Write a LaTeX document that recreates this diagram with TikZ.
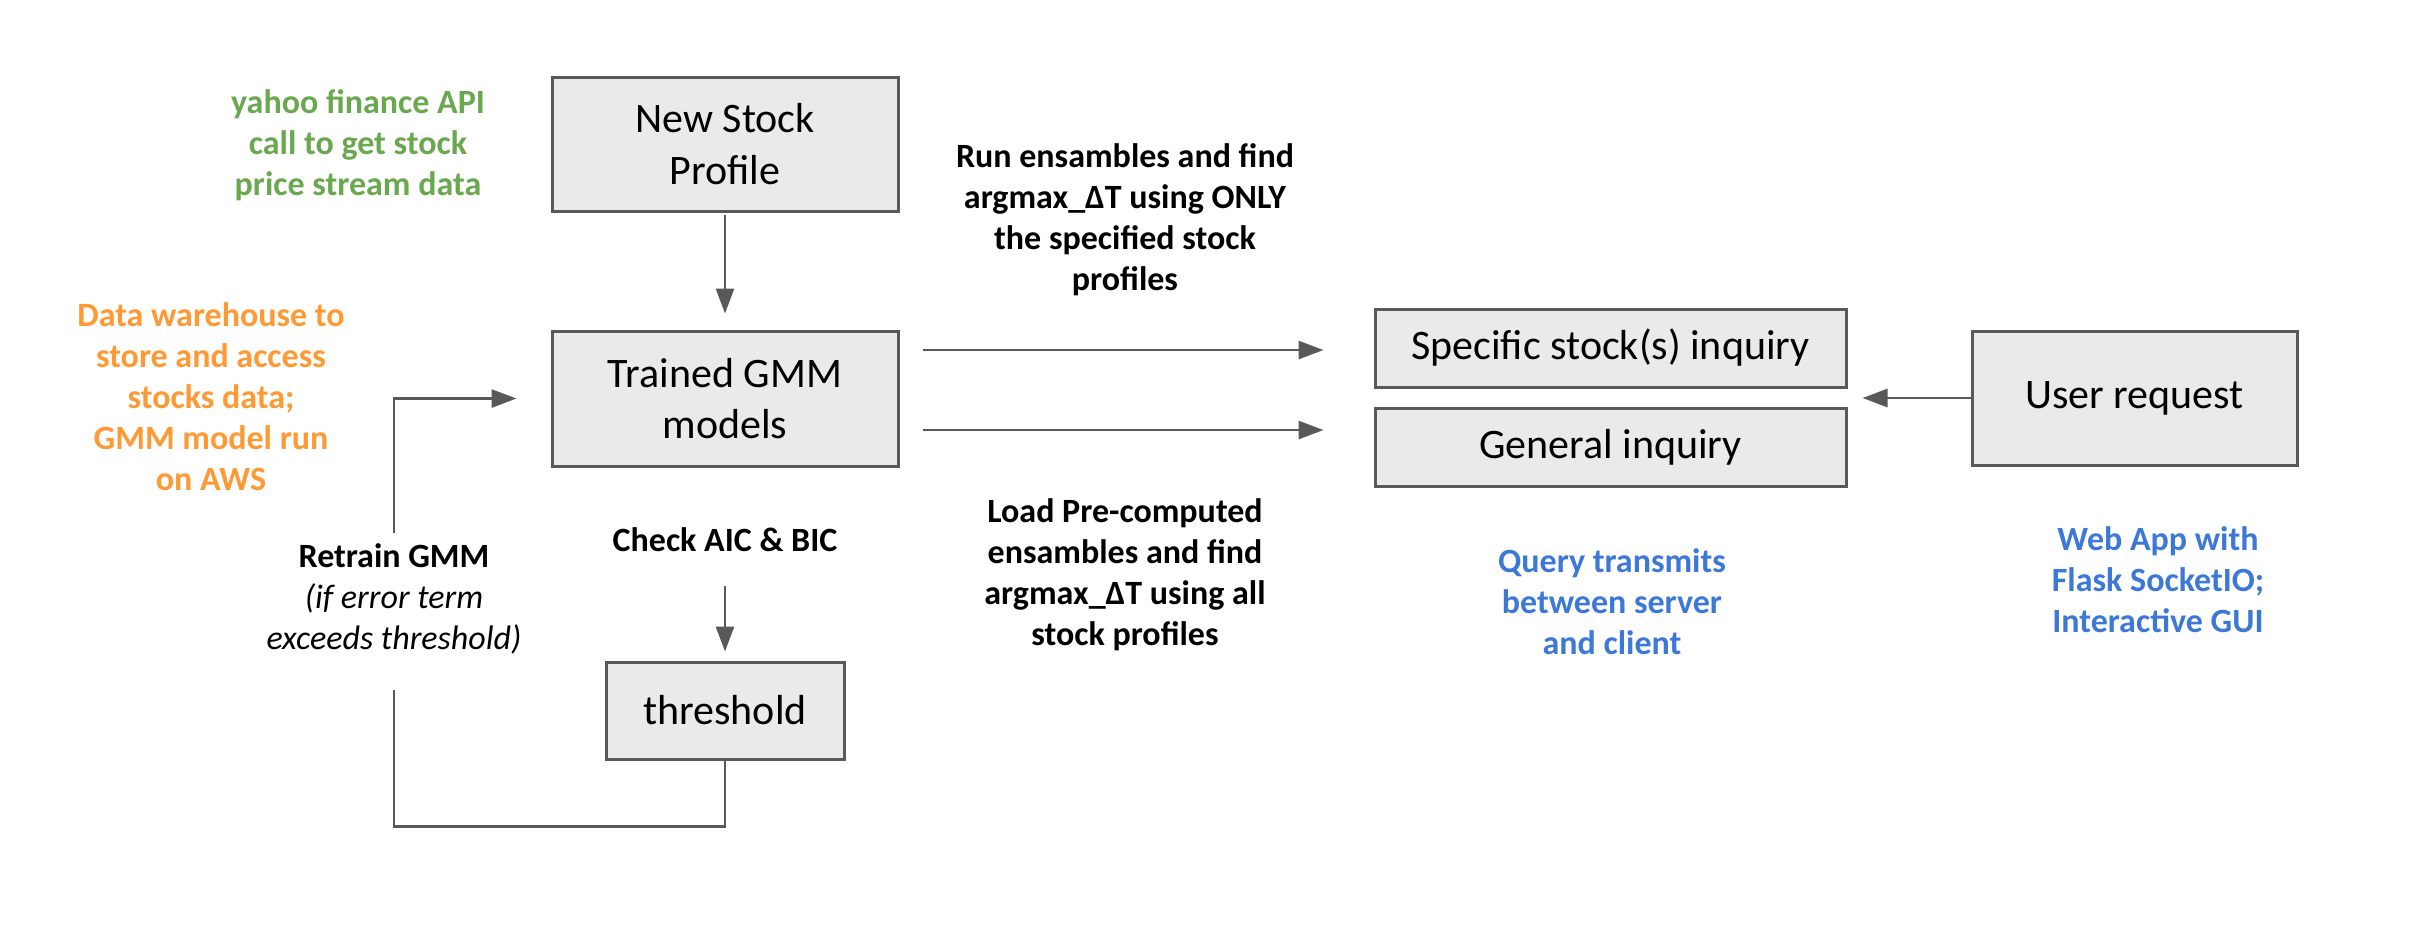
\documentclass[tikz,border=0pt]{standalone}
\usepackage{fontspec}
\setmainfont{Carlito}
\usepackage{tikz}
\usetikzlibrary{arrows.meta}
\definecolor{boxgray}{HTML}{EAEAEA}
\definecolor{edgegray}{HTML}{595959}
\definecolor{apigreen}{HTML}{6AA84F}
\definecolor{awsorange}{HTML}{FF9933}
\definecolor{webblue}{HTML}{3C78D8}

\begin{document}
\begin{tikzpicture}[x=0.5pt,y=0.5pt,yscale=-1,xscale=1,
  block/.style={draw=edgegray,fill=boxgray,line width=1.5pt,rectangle,align=center,inner sep=0pt,font=\fontsize{21}{25.6}\selectfont},
  note/.style={align=center,inner sep=0pt,font=\fontsize{17}{20.5}\selectfont\bfseries},
  link/.style={draw=edgegray,line width=1.4pt,-{Triangle[length=12.5pt,width=9pt]}},
  wire/.style={draw=edgegray,line width=1.4pt}]
%set diagram size to the reference, 2420 x 934
\useasboundingbox (0,0) rectangle (2420,934);

% Box Node
\node [block,minimum width=173pt,minimum height=67pt] (newstock) at (725,144) {New Stock\\Profile};
% Box Node
\node [block,minimum width=173pt,minimum height=67.5pt] (trained) at (725,398.5) {Trained GMM\\models};
% Box Node
\node [block,minimum width=119pt,minimum height=48.5pt] (threshold) at (725,710.5) {threshold};
% Box Node
\node [block,minimum width=235.5pt,minimum height=39pt] (specific) at (1610.5,348) {Specific stock(s) inquiry};
% Box Node
\node [block,minimum width=235.5pt,minimum height=39pt] (general) at (1610.5,447) {General inquiry};
% Box Node
\node [block,minimum width=162.5pt,minimum height=67pt] (user) at (2134.5,398) {User request};

% Text Node
\node [note,text=apigreen] (yahoo) at (358,145) {yahoo finance API\\call to get stock\\price stream data};
% Text Node
\node [note,text=awsorange] (warehouse) at (211,397) {Data warehouse to\\store and access\\stocks data;\\GMM model run\\on AWS};
% Text Node
\node [note] (runnote) at (1125,220) {Run ensambles and find\\argmax\_ΔT using ONLY\\the specified stock\\profiles};
% Text Node
\node [note] (loadnote) at (1125,575) {Load Pre-computed\\ensambles and find\\argmax\_ΔT using all\\stock profiles};
% Text Node
\node [note,text=webblue] (query) at (1612,602) {Query transmits\\between server\\and client};
% Text Node
\node [note,text=webblue] (webapp) at (2158,580) {Web App with\\Flask SocketIO;\\Interactive GUI};
% Text Node
\node [note] (check) at (725,540) {Check AIC \& BIC};
% Text Node
\node [note] (retrain) at (394,599) {Retrain GMM\\{\mdseries\itshape (if error term}\\{\mdseries\itshape exceeds threshold)}};

% Loop ends round the retrain text
\coordinate (gapTop) at (394,533);
\coordinate (gapBot) at (394,690);
% Rows of the two query arrows
\coordinate (runrow) at (0,350);
\coordinate (loadrow) at (0,430);

% Connection
\draw [link,shorten <=1pt,shorten >=8pt] (newstock.south) -- (trained.north);
% Connection
\draw [link,shorten <=17pt,shorten >=4.5pt] (check.south) -- (threshold.north);
% Connection
\draw [wire] (threshold.south) -- ++(0,66) -| (gapBot);
% Connection
\draw [link,shorten >=17pt] (gapTop) |- (trained.west);
% Connection
\draw [link,shorten <=11.5pt,shorten >=25pt] (trained.east |- runrow) -- (specific.west |- runrow);
% Connection
\draw [link,shorten <=11.5pt,shorten >=25pt] (trained.east |- loadrow) -- (specific.west |- loadrow);
% Connection
\draw [link,shorten >=7.5pt] (user.west) -- (specific.east |- user.west);

\end{tikzpicture}
\end{document}
